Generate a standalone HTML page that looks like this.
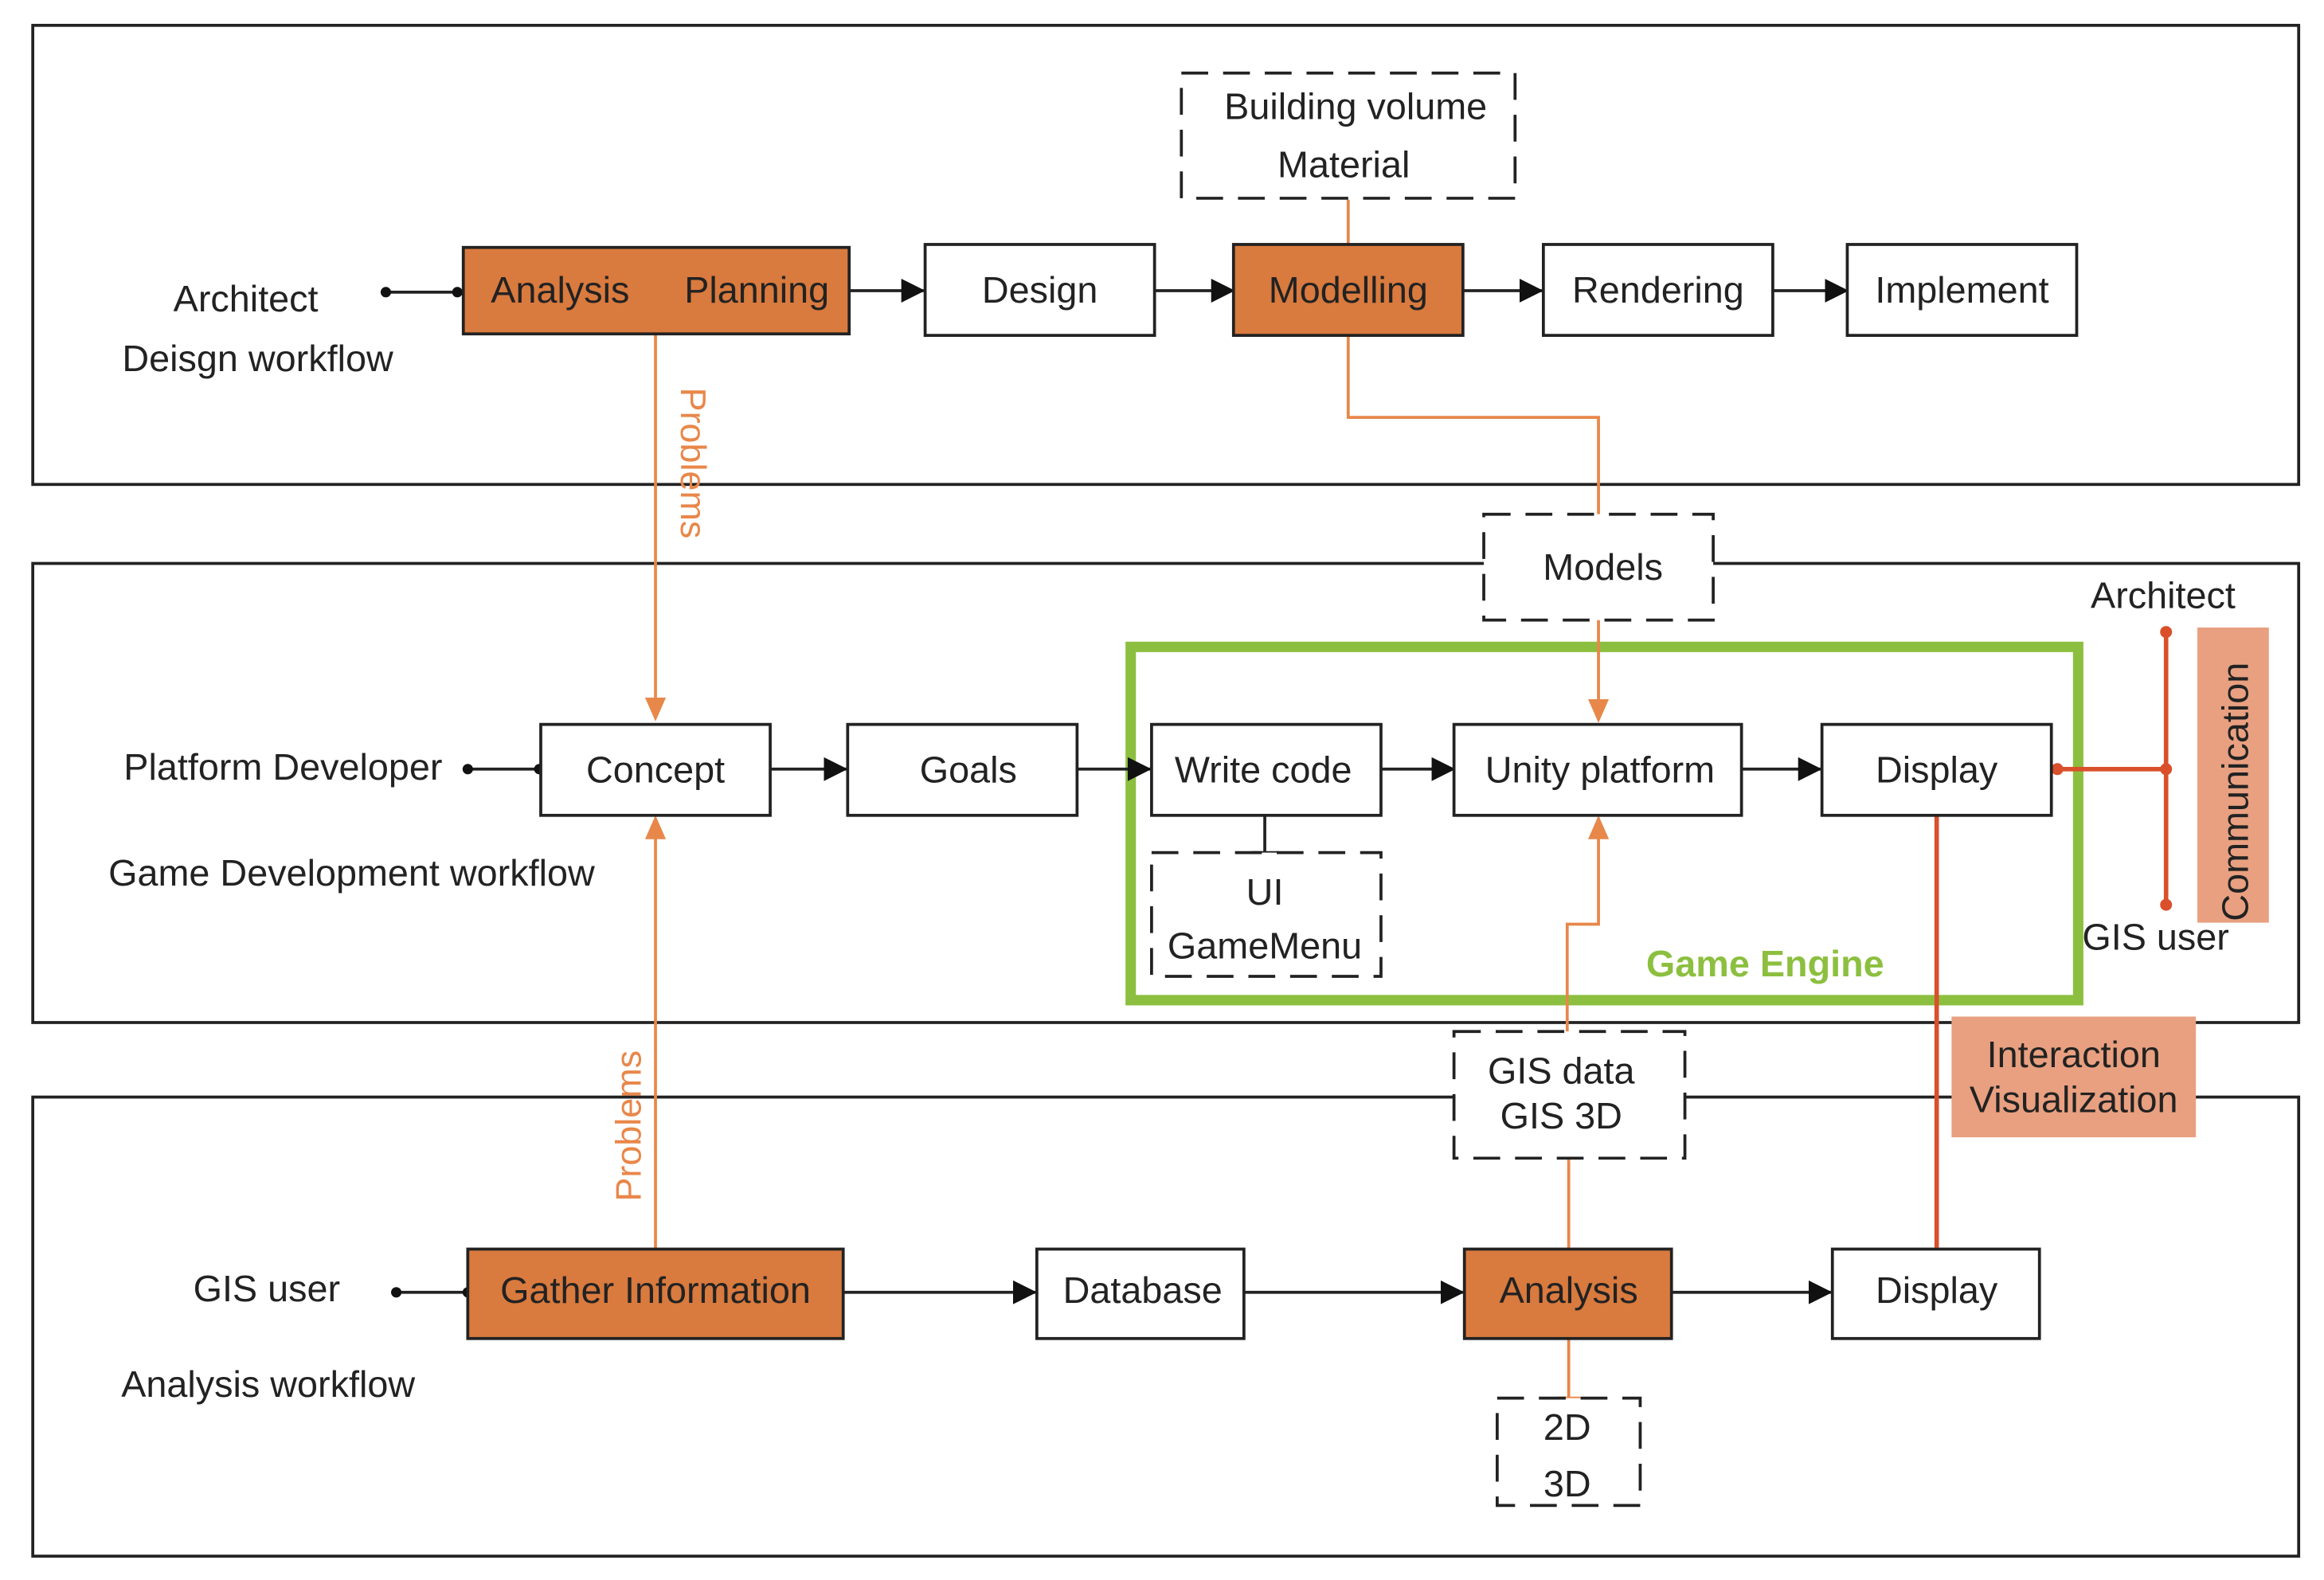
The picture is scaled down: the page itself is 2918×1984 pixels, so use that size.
<!DOCTYPE html>
<html><head><meta charset="utf-8"><style>
html,body{margin:0;padding:0;background:#fff}
svg{display:block}
text{font-family:"Liberation Sans",sans-serif;font-size:25px;fill:#222}
</style></head><body>
<svg width="2918" height="1984" viewBox="0 0 1560 1060" preserveAspectRatio="none" xmlns="http://www.w3.org/2000/svg">
<defs>
<marker id="ab" markerWidth="10" markerHeight="10" refX="9" refY="5" orient="auto" markerUnits="userSpaceOnUse"><path d="M0,0 L10,5 L0,10 z" fill="#111"/></marker>
<marker id="ao" markerWidth="16" markerHeight="14" refX="14" refY="7" orient="auto" markerUnits="userSpaceOnUse"><path d="M0,0 L16,7 L0,14 z" fill="#e8874a"/></marker>
<marker id="ab2" markerWidth="16" markerHeight="16" refX="15" refY="8" orient="auto" markerUnits="userSpaceOnUse"><path d="M0,0 L16,8 L0,16 z" fill="#111"/></marker>
</defs>
<g fill="none" stroke="#222" stroke-width="2">
<rect x="22" y="17" width="1521" height="308"/>
<rect x="22" y="378" width="1521" height="308"/>
<rect x="22" y="736" width="1521" height="308"/>
</g>
<!-- green game engine -->
<rect x="759" y="434" width="636" height="237" fill="none" stroke="#8cbf3f" stroke-width="7"/>
<text x="1105" y="655" style="fill:#8cbf3f;font-weight:bold;font-size:25px">Game Engine</text>

<!-- Orange connectors -->
<g stroke="#e8874a" stroke-width="2" fill="none">
<line x1="440" y1="224" x2="440" y2="482" marker-end="url(#ao)"/>
<line x1="440" y1="838" x2="440" y2="549" marker-end="url(#ao)"/>
<polyline points="905,226 905,280 1073,280 1073,345"/>
<line x1="1073" y1="416" x2="1073" y2="483" marker-end="url(#ao)"/>
<polyline points="1052,692 1052,620 1073,620 1073,549" marker-end="url(#ao)"/>
<line x1="905" y1="134" x2="905" y2="166"/>
<line x1="1053" y1="778" x2="1053" y2="838"/>
<line x1="1053" y1="898" x2="1053" y2="938"/>
<line x1="1045" y1="938" x2="1061" y2="938"/>
</g>
<text transform="translate(457,260) rotate(90)" style="fill:#e8874a;font-size:24px">Problems</text>
<text transform="translate(430,806) rotate(-90)" style="fill:#e8874a;font-size:24px">Problems</text>

<!-- black arrows -->
<g stroke="#222" stroke-width="2" fill="none">
<line x1="259" y1="196" x2="311" y2="196"/>
<line x1="570" y1="195" x2="620" y2="195" marker-end="url(#ab2)"/>
<line x1="775" y1="195" x2="828" y2="195" marker-end="url(#ab2)"/>
<line x1="982" y1="195" x2="1035" y2="195" marker-end="url(#ab2)"/>
<line x1="1190" y1="195" x2="1240" y2="195" marker-end="url(#ab2)"/>
<line x1="314" y1="516" x2="363" y2="516"/>
<line x1="517" y1="516" x2="568" y2="516" marker-end="url(#ab2)"/>
<line x1="723" y1="516" x2="772" y2="516" marker-end="url(#ab2)"/>
<line x1="927" y1="516" x2="976" y2="516" marker-end="url(#ab2)"/>
<line x1="1169" y1="516" x2="1222" y2="516" marker-end="url(#ab2)"/>
<line x1="266" y1="867" x2="314" y2="867"/>
<line x1="566" y1="867" x2="695" y2="867" marker-end="url(#ab2)"/>
<line x1="835" y1="867" x2="982" y2="867" marker-end="url(#ab2)"/>
<line x1="1122" y1="867" x2="1229" y2="867" marker-end="url(#ab2)"/>
<line x1="849" y1="547" x2="849" y2="572"/>
<line x1="840" y1="572" x2="858" y2="572"/>
<line x1="22" y1="378" x2="997" y2="378" stroke-width="0"/>
</g>
<g fill="#111">
<circle cx="259" cy="196" r="3.5"/><circle cx="307" cy="196" r="3.5"/>
<circle cx="314" cy="516" r="3.5"/><circle cx="362" cy="516" r="3.5"/>
<circle cx="266" cy="867" r="3.5"/><circle cx="314" cy="867" r="3.5"/>
</g>

<!-- red communication -->
<g stroke="#d9502a" stroke-width="3" fill="none">
<line x1="1300" y1="547" x2="1300" y2="837"/>
<line x1="1378" y1="516" x2="1454" y2="516"/>
<line x1="1454" y1="424" x2="1454" y2="607"/>
</g>
<g fill="#d9502a"><circle cx="1381" cy="516" r="4"/><circle cx="1454" cy="516" r="4"/><circle cx="1454" cy="424" r="4"/><circle cx="1454" cy="607" r="4"/></g>
<rect x="1475" y="421" width="48" height="198" fill="#e8a080"/>
<text transform="translate(1509,618) rotate(-90)" style="font-size:25px">Communication</text>
<rect x="1310" y="682" width="164" height="81" fill="#e8a080"/>
<text x="1392" y="716" text-anchor="middle">Interaction</text>
<text x="1392" y="746" text-anchor="middle">Visualization</text>

<!-- dashed boxes (white fill to cut frame lines) -->
<g fill="#fff" stroke="#222" stroke-width="2" stroke-dasharray="18,10">
<rect x="793" y="49" width="224" height="84"/>
<rect x="996" y="345" width="154" height="71"/>
<rect x="773" y="572" width="154" height="83"/>
<rect x="976" y="692" width="155" height="85"/>
<rect x="1005" y="938" width="96" height="72"/>
</g>
<text x="910" y="80" text-anchor="middle">Building volume</text>
<text x="902" y="119" text-anchor="middle">Material</text>
<text x="1076" y="389" text-anchor="middle">Models</text>
<text x="849" y="607" text-anchor="middle">UI</text>
<text x="849" y="643" text-anchor="middle">GameMenu</text>
<text x="1048" y="727" text-anchor="middle">GIS data</text>
<text x="1048" y="757" text-anchor="middle">GIS 3D</text>
<text x="1052" y="966" text-anchor="middle">2D</text>
<text x="1052" y="1004" text-anchor="middle">3D</text>

<!-- solid boxes -->
<g stroke="#222" stroke-width="2">
<rect x="311" y="166" width="259" height="58" fill="#d97a3e"/>
<rect x="621" y="164" width="154" height="61" fill="#fff"/>
<rect x="828" y="164" width="154" height="61" fill="#d97a3e"/>
<rect x="1036" y="164" width="154" height="61" fill="#fff"/>
<rect x="1240" y="164" width="154" height="61" fill="#fff"/>
<rect x="363" y="486" width="154" height="61" fill="#fff"/>
<rect x="569" y="486" width="154" height="61" fill="#fff"/>
<rect x="773" y="486" width="154" height="61" fill="#fff"/>
<rect x="976" y="486" width="193" height="61" fill="#fff"/>
<rect x="1223" y="486" width="154" height="61" fill="#fff"/>
<rect x="314" y="838" width="252" height="60" fill="#d97a3e"/>
<rect x="696" y="838" width="139" height="60" fill="#fff"/>
<rect x="983" y="838" width="139" height="60" fill="#d97a3e"/>
<rect x="1230" y="838" width="139" height="60" fill="#fff"/>
</g>
<text x="376" y="203" text-anchor="middle">Analysis</text>
<text x="508" y="203" text-anchor="middle">Planning</text>
<text x="698" y="203" text-anchor="middle">Design</text>
<text x="905" y="203" text-anchor="middle">Modelling</text>
<text x="1113" y="203" text-anchor="middle">Rendering</text>
<text x="1317" y="203" text-anchor="middle">Implement</text>
<text x="440" y="525" text-anchor="middle">Concept</text>
<text x="650" y="525" text-anchor="middle">Goals</text>
<text x="848" y="525" text-anchor="middle">Write code</text>
<text x="1074" y="525" text-anchor="middle">Unity platform</text>
<text x="1300" y="525" text-anchor="middle">Display</text>
<text x="440" y="874" text-anchor="middle">Gather Information</text>
<text x="767" y="874" text-anchor="middle">Database</text>
<text x="1053" y="874" text-anchor="middle">Analysis</text>
<text x="1300" y="874" text-anchor="middle">Display</text>

<!-- side labels -->
<text x="165" y="209" text-anchor="middle">Architect</text>
<text x="173" y="249" text-anchor="middle">Deisgn workflow</text>
<text x="190" y="523" text-anchor="middle">Platform Developer</text>
<text x="236" y="594" text-anchor="middle">Game Development workflow</text>
<text x="179" y="873" text-anchor="middle">GIS user</text>
<text x="180" y="937" text-anchor="middle">Analysis workflow</text>
<text x="1452" y="408" text-anchor="middle">Architect</text>
<text x="1447" y="637" text-anchor="middle">GIS user</text>
</svg>
</body></html>
